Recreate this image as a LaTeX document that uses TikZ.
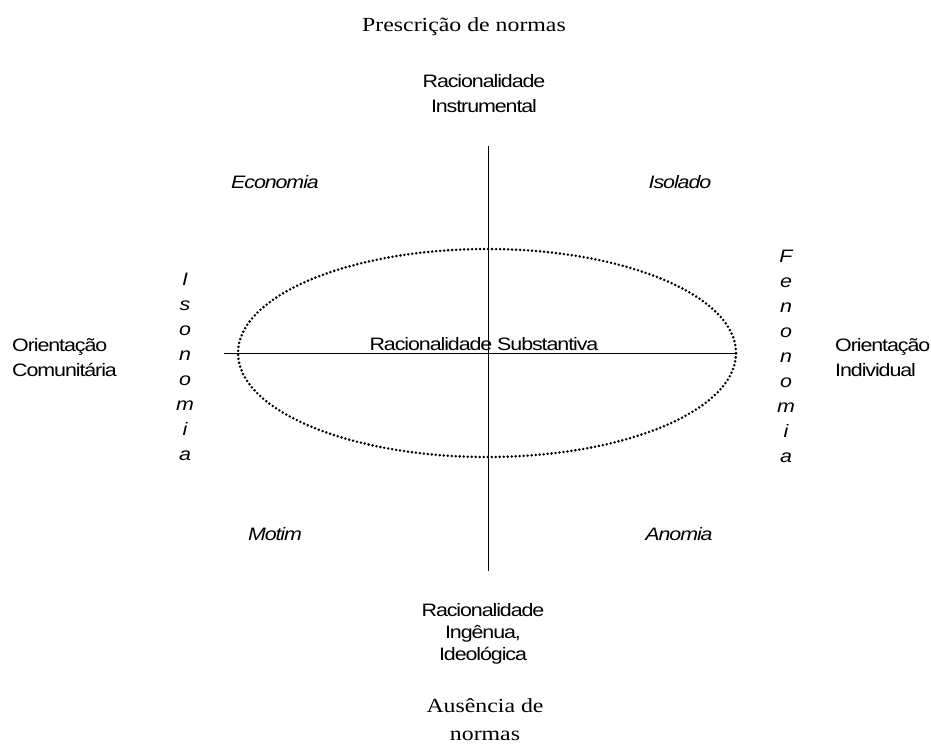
\documentclass[tikz,border=0pt]{standalone}
\usepackage{fontspec}
\setmainfont{Liberation Serif}[FakeStretch=1.19]
\newfontfamily\narrowsans{Liberation Sans}[FakeStretch=1.19,LetterSpace=-6]
\usetikzlibrary{positioning}
\tikzset{every node/.append style={inner sep=0pt}}
\tikzset{axislabel/.style={font=\narrowsans\fontsize{18}{25}\selectfont,
    align=center, anchor=base}}
\tikzset{sidelabel/.style={font=\narrowsans\fontsize{18}{25}\selectfont,
    align=left, anchor=base west}}
\tikzset{quadlabel/.style={font=\narrowsans\itshape\fontsize{18}{25}\selectfont,
    anchor=base}}
\tikzset{vletter/.style={font=\narrowsans\itshape\fontsize{18}{25}\selectfont,
    anchor=base}}
\tikzset{normlabel/.style={font=\fontsize{20}{28}\selectfont,
    align=center, anchor=base}}

\begin{document}
\begin{tikzpicture}[x=1pt,y=-1pt]
  \useasboundingbox (0,0) rectangle (931,749);
  \coordinate (west) at (224,353);
  \coordinate (east) at (736,353);
  \coordinate (north) at (488,146);
  \coordinate (south) at (488,571);
  \coordinate (centre) at (487,353);

  \draw[line width=1pt] (west) -- (east);
  \draw[line width=1pt] (north) -- (south);
  \draw[line width=2.8pt, line cap=round, dash pattern=on 0pt off 4pt]
  (centre) ellipse [x radius=249pt, y radius=104pt];

  % multi-line nodes sit on the baseline of their last line
  \node[normlabel] (prescricao) at (464,32) {Prescrição de normas};
  \node[normlabel] (ausencia) at (485,740) {Ausência de\\normas};

  \node[axislabel] (instrumental) at (484,113) {Racionalidade\\Instrumental};
  \node[axislabel] (substantiva) at (484,350) {Racionalidade Substantiva};
  \node[axislabel, font=\narrowsans\fontsize{18}{22}\selectfont] (ingenua)
  at (483,660) {Racionalidade\\Ingênua,\\Ideológica};
  \node[sidelabel] (comunitaria) at (12,376) {Orientação\\Comunitária};
  \node[sidelabel] (individual) at (835,376) {Orientação\\Individual};

  \node[quadlabel] (economia) at (275,188) {Economia};
  \node[quadlabel] (isolado) at (680,188) {Isolado};
  \node[quadlabel] (motim) at (275,540) {Motim};
  \node[quadlabel] (anomia) at (679,540) {Anomia};

  \foreach \ch [count=\k from 0] in {I,s,o,n,o,m,i,a}
    \node[vletter] (iso\k) at (185,285+25*\k) {\ch};
  \foreach \ch [count=\k from 0] in {F,e,n,o,n,o,m,i,a}
    \node[vletter] (feno\k) at (786,262+25*\k) {\ch};
\end{tikzpicture}
\end{document}
